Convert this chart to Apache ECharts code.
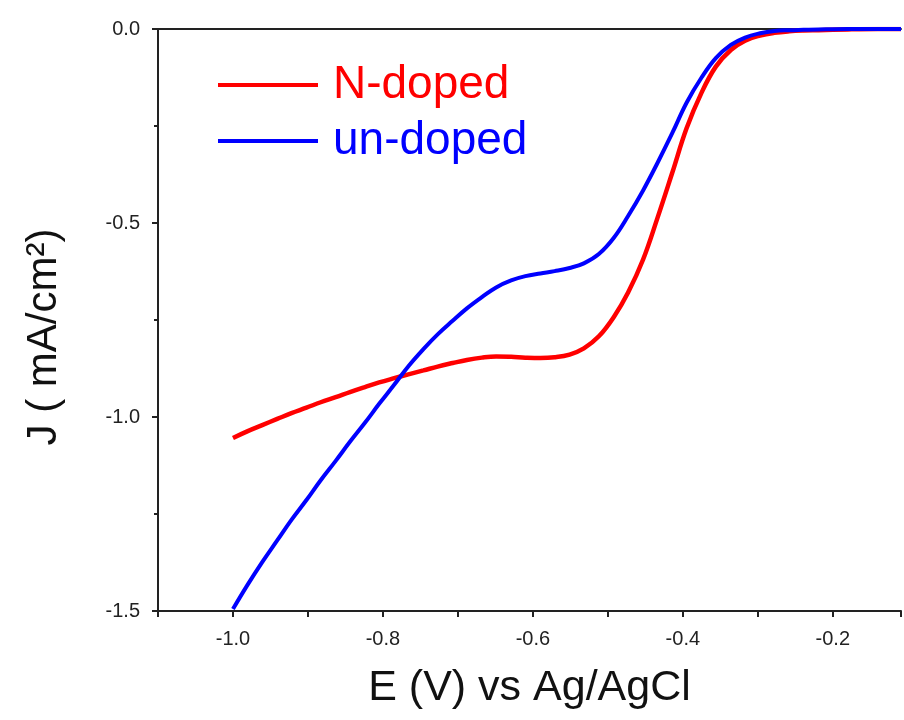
<!DOCTYPE html>
<html>
<head>
<meta charset="utf-8">
<script src="https://cdn.jsdelivr.net/npm/echarts@6/dist/echarts.min.js"></script>
<style>html,body{margin:0;padding:0;background:#fff}#c{width:904px;height:720px}</style>
</head>
<body>
<div id="c"></div>
<script>
var E = [-1.000,-0.981,-0.961,-0.941,-0.922,-0.902,-0.883,-0.863,-0.844,-0.824,-0.805,-0.785,-0.766,-0.746,-0.727,-0.707,-0.688,-0.668,-0.649,-0.629,-0.610,-0.590,-0.571,-0.551,-0.532,-0.512,-0.492,-0.473,-0.453,-0.434,-0.414,-0.395,-0.375,-0.356,-0.336,-0.317,-0.297,-0.278,-0.258,-0.239,-0.219,-0.180,-0.140,-0.109];
var nDoped = [-1.054,-1.037,-1.021,-1.005,-0.990,-0.976,-0.962,-0.949,-0.936,-0.923,-0.911,-0.900,-0.890,-0.880,-0.870,-0.861,-0.853,-0.847,-0.844,-0.845,-0.847,-0.848,-0.846,-0.839,-0.823,-0.792,-0.742,-0.679,-0.594,-0.488,-0.370,-0.256,-0.164,-0.097,-0.054,-0.030,-0.017,-0.010,-0.006,-0.004,-0.003,-0.001,0.000,0.000];
var unDoped = [-1.495,-1.434,-1.374,-1.318,-1.265,-1.214,-1.163,-1.113,-1.064,-1.015,-0.966,-0.917,-0.869,-0.825,-0.787,-0.752,-0.720,-0.691,-0.666,-0.648,-0.637,-0.630,-0.624,-0.616,-0.604,-0.580,-0.538,-0.482,-0.416,-0.346,-0.268,-0.190,-0.125,-0.075,-0.041,-0.022,-0.011,-0.005,-0.003,-0.002,-0.001,0.000,0.000,0.000];
var seriesNames = ['N-doped','un-doped'];
var seriesColors = ['#ff0000','#0000ff'];
var xTitle = 'E (V) vs Ag/AgCl';
var yTitle = 'J ( mA/cm\u00B2)';

function pairs(xs, ys){ return xs.map(function(x,i){ return [x, ys[i]]; }); }
var FONT = 'Liberation Sans, Arial, sans-serif';
var chart = echarts.init(document.getElementById('c'), null, {renderer:'canvas'});
chart.setOption({
  animation:false,
  backgroundColor:'#fff',
  grid:{left:158, right:0, top:29, bottom:109, containLabel:false},
  legend:{
    orient:'vertical', left:213, top:57, itemWidth:100, itemHeight:4, itemGap:10, icon:'rect',
    data:[
      {name:seriesNames[0], textStyle:{color:seriesColors[0]}},
      {name:seriesNames[1], textStyle:{color:seriesColors[1]}}
    ],
    textStyle:{fontSize:46, lineHeight:46, fontFamily:FONT, padding:[0,0,0,10]}
  },
  xAxis:[{
    type:'value', min:-1.1, max:-0.109, interval:0.1,
    name:xTitle, nameLocation:'middle', nameGap:56,
    nameTextStyle:{fontSize:43, color:'#111', fontFamily:FONT},
    axisLine:{show:true, onZero:false, lineStyle:{color:'#222', width:2}},
    axisTick:{show:true, inside:false, length:6, lineStyle:{color:'#222', width:2}},
    axisLabel:{fontSize:20, color:'#222', fontFamily:FONT, margin:18,
      formatter:function(v){ var k=Math.round(v*10); if (k%2!==0) return ''; return (k/10).toFixed(1); }},
    splitLine:{show:false}
  },{
    type:'value', position:'top', min:-1.1, max:-0.109,
    axisLine:{show:true, onZero:false, lineStyle:{color:'#222', width:2}},
    axisTick:{show:false}, axisLabel:{show:false}, splitLine:{show:false}
  }],
  yAxis:{
    type:'value', min:-1.5, max:0, interval:0.5,
    name:yTitle, nameLocation:'middle', nameGap:93, nameRotate:90,
    nameTextStyle:{fontSize:42, color:'#111', fontFamily:FONT, padding:[0,34,0,0]},
    axisLine:{show:true, onZero:false, lineStyle:{color:'#222', width:2}},
    axisTick:{show:true, inside:false, length:6, lineStyle:{color:'#222', width:2}},
    minorTick:{show:true, splitNumber:2, length:4, lineStyle:{color:'#222', width:2}},
    axisLabel:{fontSize:20, color:'#222', fontFamily:FONT, margin:18,
      formatter:function(v){ return v.toFixed(1); }},
    splitLine:{show:false}, minorSplitLine:{show:false}
  },
  series:[
    {name:seriesNames[0], type:'line', data:pairs(E,nDoped), symbol:'none', smooth:0.4,
     lineStyle:{color:seriesColors[0], width:4.5}, itemStyle:{color:seriesColors[0]}, z:2},
    {name:seriesNames[1], type:'line', data:pairs(E,unDoped), symbol:'none', smooth:0.4,
     lineStyle:{color:seriesColors[1], width:4}, itemStyle:{color:seriesColors[1]}, z:3}
  ]
});
</script>
</body>
</html>
